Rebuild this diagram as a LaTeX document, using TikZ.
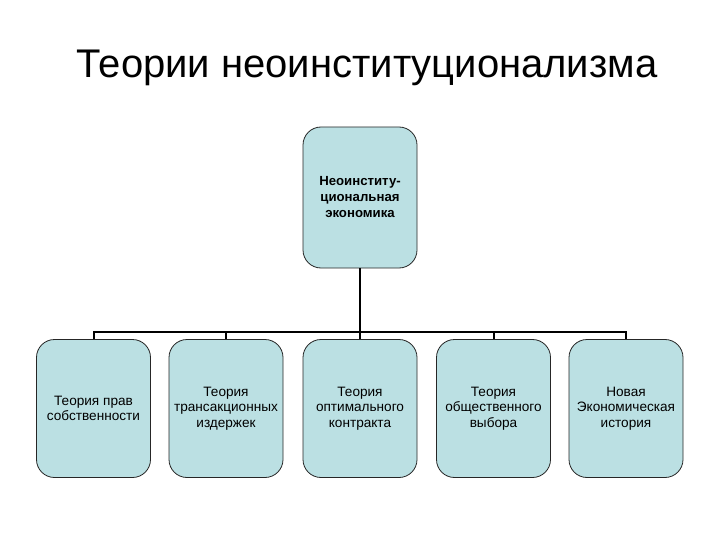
\documentclass[tikz,border=0pt]{standalone}
\usepackage{fontspec}
\setmainfont{Liberation Sans}
\definecolor{boxfill}{RGB}{187,224,227}
\begin{document}
\begin{tikzpicture}[x=1pt,y=-1pt,
  box/.style={draw=black!85, line width=0.8pt, fill=boxfill, rounded corners=18pt,
    minimum width=114pt, minimum height=138pt, align=center, inner sep=1pt,
    font=\fontsize{13.6}{15.5}\selectfont},
  conn/.style={draw=black, line width=2pt}]
\useasboundingbox (0,0) rectangle (720,540);
\node[font=\fontsize{40}{46}\selectfont] (title) at (367,68) {Теории неоинституционализма};
\node[box, minimum height=141pt, font=\bfseries\fontsize{13.2}{16}\selectfont] (top) at (360,197.5) {Неоинститу-\\циональная\\экономика};
\node[box] (b1) at (93.5,408.5) {Теория прав\\собственности};
\node[box] (b2) at (226,408.5) {Теория\\трансакционных\\издержек};
\node[box] (b3) at (360,408.5) {Теория\\оптимального\\контракта};
\node[box] (b4) at (493.5,408.5) {Теория\\общественного\\выбора};
\node[box] (b5) at (626,408.5) {Новая\\Экономическая\\история};
\coordinate (hub) at (360,332);
\draw[conn] (top.south) -- (hub);
\draw[conn] (b1.north) -- (b1.north |- hub) -- (b5.north |- hub) -- (b5.north);
\foreach \b in {b2,b3,b4} \draw[conn] (\b.north) -- (\b.north |- hub);
\end{tikzpicture}
\end{document}
